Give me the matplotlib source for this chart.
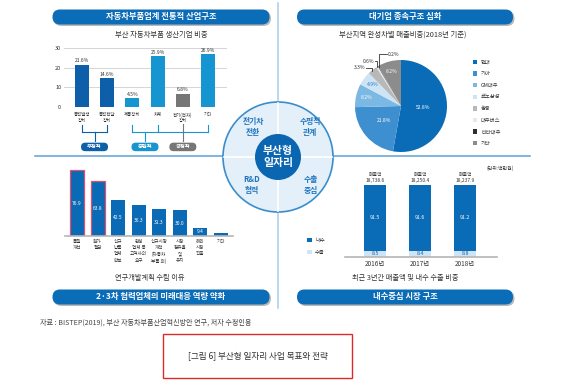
import numpy as np
import matplotlib
matplotlib.use("Agg")
import matplotlib.pyplot as plt
from matplotlib.patches import FancyBboxPatch, Circle, Rectangle

plt.rcParams['font.family'] = ['Noto Sans CJK KR', 'DejaVu Sans']

W, H = 580, 380

# --- data ---
parts_cats = ["동력발생\n장치", "동력전달\n장치", "제동장치", "차체", "전기(전자)\n장치", "기타"]
parts_share = [21.6, 14.6, 4.5, 25.9, 6.8, 26.9]
parts_tone = ["부정적", "부정적", "중립적", "중립적", "긍정적", "중립적"]

maker_names = ["현대", "기아", "GM대우", "르노삼성", "쌍용", "대우버스", "타타대우", "기타"]
maker_share = [52.8, 21.8, 8.2, 4.9, 3.3, 0.6, 0.2, 8.2]

rnd_cats = ["품질\n개선", "원가\n절감", "신규\n납품\n업체\n확보", "완성\n업체 등\n고객사의\n요구",
            "신규시장\n개척\n(자동차\n부품 외)", "시장\n점유율\n및\n유지", "해외\n시장\n진출", "기타"]
rnd_vals = [76.9, 63.8, 42.5, 36.3, 31.3, 30.0, 9.4, 3.3]
rnd_shown = [True, True, True, True, True, True, True, False]

years = ["2016년", "2017년", "2018년"]
domestic = [91.5, 91.6, 91.2]
export = [8.5, 8.4, 8.8]
sales = [18738.6, 18250.4, 18237.9]

# colours
BLUE = "#0b6cb7"
tone_col = {"부정적": "#0e5fa9", "중립적": "#1695d1", "긍정적": "#767676"}
maker_cols = ["#0a6cb7", "#3e8fd0", "#7cb8e4", "#cde4f5", "#b8b8b8", "#e8e8e8", "#2e2e2e", "#8c8c8c"]
DOM_COL, EXP_COL = "#0a6bb7", "#cde5f6"

fig = plt.figure(figsize=(W / 100, H / 100), dpi=100)
fig.patch.set_facecolor("white")

# overlay in pixel coords (y downwards)
ov = fig.add_axes([0, 0, 1, 1])
ov.set_xlim(0, W)
ov.set_ylim(H, 0)
ov.axis("off")


def px_axes(x0, y0, x1, y1):
    a = fig.add_axes([x0 / W, 1 - y1 / H, (x1 - x0) / W, (y1 - y0) / H])
    a.set_facecolor("none")
    return a


def to_px(ax, x, y):
    return ov.transData.inverted().transform(ax.transData.transform((x, y)))


def pill(cx, cy, w, h, text, color, fs, shadow=True):
    style = f"round,pad=0,rounding_size={h / 2}"
    if shadow:
        ov.add_patch(FancyBboxPatch((cx - w / 2 + 1.5, cy - h / 2 + 1.5), w, h, boxstyle=style,
                                    fc="#b9b9b9", ec="none", zorder=2))
    ov.add_patch(FancyBboxPatch((cx - w / 2, cy - h / 2), w, h, boxstyle=style,
                                fc=color, ec="none", zorder=3))
    ov.text(cx, cy, text, color="white", fontsize=fs, fontweight="bold",
            ha="center", va="center", zorder=4)


# dividers
ov.plot([35, 530], [156, 156], color="#5d9fd6", lw=1.1, zorder=1)
ov.plot([278, 278], [3, 308], color="#a9cbe8", lw=1.1, zorder=1)

# header pills
pill(161, 17, 217, 15, "자동차부품업계 전통적 산업구조", BLUE, 6)
pill(405, 17, 216, 15, "대기업 종속구조 심화", BLUE, 6)
pill(161, 297, 217, 15, "2·3차 협력업체의 미래대응 역량 약화", BLUE, 6)
pill(405, 297, 216, 15, "내수중심 시장 구조", BLUE, 6)

# subtitles
ov.text(161, 35, "부산 자동차부품 생산기업 비중", fontsize=5.3, ha="center", va="center", color="#333333")
ov.text(403, 35, "부산지역 완성차별 매출비중(2018년 기준)", fontsize=5.3, ha="center", va="center", color="#333333")
ov.text(150, 278, "연구개발계획 수립 이유", fontsize=5.2, ha="center", va="center", color="#333333")
ov.text(405, 278, "최근 3년간 매출액 및 내수 수출 비중", fontsize=5.2, ha="center", va="center", color="#333333")

# --- top-left: parts bar chart ---
ax1 = px_axes(64, 48, 227, 107)
x1 = np.arange(len(parts_cats))
ax1.bar(x1, parts_share, width=0.56, color=[tone_col[t] for t in parts_tone], zorder=3)
ax1.set_xlim(-0.71, 5.75)
ax1.set_ylim(0, 30)
ax1.set_yticks([0, 10, 20, 30])
ax1.yaxis.grid(True, color="#cfcfcf", lw=0.6, zorder=0)
ax1.set_xticks([])
ax1.tick_params(axis="y", length=0, labelsize=4, pad=2, labelcolor="#333333")
for s in ax1.spines.values():
    s.set_visible(False)
for i, v in enumerate(parts_share):
    ax1.text(i, v + 0.7, f"{v}%", ha="center", va="bottom", fontsize=3.6, color="#333333")
    ax1.text(i, -2.6, parts_cats[i], ha="center", va="top", fontsize=3.2, linespacing=1.15, color="#333333")

# brackets and group pills
for tone in ["부정적", "중립적", "긍정적"]:
    idx = [i for i, t in enumerate(parts_tone) if t == tone]
    col = tone_col[tone]
    y_top = -9.0 if tone != "긍정적" else -8.8
    y_bar = -12.6
    if len(idx) > 1:
        for i in idx:
            ax1.plot([i, i], [y_top, y_bar], color=col, lw=0.8, clip_on=False)
        ax1.plot([min(idx), max(idx)], [y_bar, y_bar], color=col, lw=0.8, clip_on=False)
        xc = (idx[0] + idx[1]) / 2
        ax1.plot([xc, xc], [y_bar, -17.5], color=col, lw=0.8, clip_on=False)
    else:
        xc = idx[0]
        ax1.plot([xc, xc], [y_top, -17.5], color=col, lw=0.8, clip_on=False, zorder=1)
    px, py = to_px(ax1, xc, -20.3)
    pill(px, py, 27, 8.5, tone, col, 3.8, shadow=False)

# --- top-right: pie ---
ax2 = px_axes(355, 60, 447, 152)
wedges, _ = ax2.pie(maker_share, colors=maker_cols, startangle=90, counterclock=False,
                    radius=1, wedgeprops=dict(lw=0))
ax2.set_xlim(-1, 1)
ax2.set_ylim(-1, 1)
cum = 0.0
mids = []
for v in maker_share:
    mids.append(np.deg2rad(90 - (cum + v / 2) / 100 * 360))
    cum += v
inner_r = {0: 0.48, 1: 0.5}
for i, v in enumerate(maker_share):
    if v >= 4:
        r = inner_r.get(i, 0.78)
        tc = "#2a7ac4" if i == 3 else "white"
        ax2.text(r * np.cos(mids[i]), r * np.sin(mids[i]), f"{v}%", ha="center", va="center",
                 fontsize=3.6, color=tc)
# leader labels for small slices
lead = {4: (-0.78, 0.83, "right"), 5: (-0.58, 0.97, "right"), 6: (-0.28, 1.12, "left")}
for i, (tx, ty, ha) in lead.items():
    ex, ey = np.cos(mids[i]), np.sin(mids[i])
    ax2.text(tx, ty, f"{maker_share[i]}%", ha=ha, va="center", fontsize=3.6, color="#333333")
    jx = ex + (0.0 if i != 6 else 0.02)
    ax2.plot([tx + (0.02 if ha == "right" else -0.02), jx, jx], [ty, ty, ey * 0.98],
             color="#333333", lw=0.6, clip_on=False)

# pie legend
for i, name in enumerate(maker_names):
    yy = 62 + i * 11.6
    ov.add_patch(Rectangle((472.5, yy - 2.3), 4.6, 4.6, fc=maker_cols[i], ec="none", zorder=3))
    ov.text(481, yy, name, fontsize=3.8, va="center", ha="left", color="#333333")

# --- centre circle ---
cx, cy = 278, 157
ov.add_patch(Circle((cx, cy), 55, fc="#e4f0f9", ec="#3a8dcc", lw=1.2, zorder=5))
ov.plot([cx - 54, cx + 54], [cy, cy], color="white", lw=1.2, zorder=6)
ov.plot([cx, cx], [cy - 54, cy + 54], color="white", lw=1.2, zorder=6)
ov.add_patch(Circle((cx, cy), 23, fc="#0b66b2", ec="none", zorder=7))
ov.text(cx, cy, "부산형\n일자리", color="white", fontsize=7.8, fontweight="bold",
        ha="center", va="center", linespacing=1.25, zorder=8)
for (qx, qy, t) in [(-25, -30, "전기차\n전환"), (32, -30, "수평적\n관계"),
                    (-26, 28, "R&D\n협력"), (33, 28, "수출\n중심")]:
    ov.text(cx + qx, cy + qy, t, color="#1f74bf", fontsize=5.6, fontweight="bold",
            ha="center", va="center", linespacing=1.2, zorder=8)

# --- bottom-left: R&D reasons ---
ax3 = px_axes(65, 167.4, 233, 236)
x3 = np.arange(len(rnd_cats))
edges = ["#e0506e" if i < 2 else "none" for i in x3]
ax3.bar(x3, rnd_vals, width=0.68, color="#0b6ab5", edgecolor=edges, linewidth=0.9, zorder=3)
ax3.set_xlim(-0.585, 7.6)
ax3.set_ylim(0, 80)
ax3.axis("off")
ax3.plot([-0.585, 7.6], [0, 0], color="#b5b5b5", lw=1.2, clip_on=False, zorder=4)
for i, v in enumerate(rnd_vals):
    if rnd_shown[i]:
        ax3.text(i, v / 2 if v > 15 else v / 2 + 0.3, f"{v}", ha="center", va="center",
                 fontsize=3.5, color="white", zorder=5)
    ax3.text(i, -3.5, rnd_cats[i], ha="center", va="top", fontsize=3.3, linespacing=1.3, color="#333333")

# --- bottom-right: domestic / export ---
ax4 = px_axes(345, 185, 497, 257)
x4 = np.arange(len(years))
ax4.bar(x4, domestic, width=0.47, color=DOM_COL, zorder=3)
ax4.bar(x4, export, bottom=domestic, width=0.47, color=EXP_COL, zorder=3)
ax4.set_xlim(-0.667, 2.71)
ax4.set_ylim(100, 0)
ax4.axis("off")
ax4.plot([-0.667, 2.71], [100, 100], color="#b5b5b5", lw=1.2, clip_on=False, zorder=4)
for i in x4:
    ax4.text(i, domestic[i] / 2, f"{domestic[i]}", ha="center", va="center", fontsize=3.8, color="white")
    ax4.text(i, domestic[i] + export[i] / 2, f"{export[i]}", ha="center", va="center", fontsize=3.8, color="#1f5f99")
    ax4.text(i, -3, f"매출액\n{sales[i]:,.1f}", ha="center", va="bottom", fontsize=3.5,
             linespacing=1.3, color="#333333")
    ax4.text(i, 104, years[i], ha="center", va="top", fontsize=4.6, color="#333333")
ov.text(500, 168, "(단위:백만원)", fontsize=3.5, ha="center", va="center", color="#333333")
for k, (lab, col) in enumerate([("내수", DOM_COL), ("수출", EXP_COL)]):
    yy = 240 + k * 12
    ov.add_patch(Rectangle((307, yy - 2.3), 4.6, 4.6, fc=col, ec="none", zorder=3))
    ov.text(315, yy, lab, fontsize=3.8, va="center", ha="left", color="#333333")

# --- footer ---
ov.text(40, 323, "자료 : BISTEP(2019), 부산 자동차부품산업혁신방안 연구, 저자 수정인용",
        fontsize=5.1, ha="left", va="center", color="#444444")
ov.add_patch(Rectangle((163, 334), 189, 44, fc="none", ec="#e02a2a", lw=1.0, zorder=3))
ov.text(257.5, 356, "[그림 6] 부산형 일자리 사업 목표와 전략", fontsize=6.2,
        ha="center", va="center", color="#333333")

fig.savefig("out.png", dpi=100)
